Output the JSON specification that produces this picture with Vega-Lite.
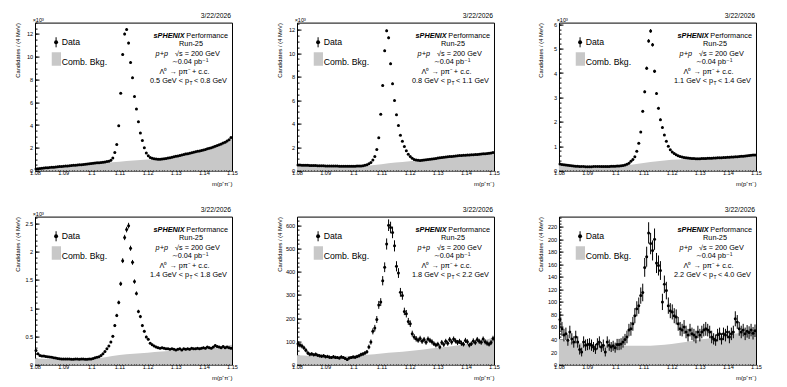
{
"$schema":"https://vega.github.io/schema/vega-lite/v6.json",
"background":"white",
"padding":{"left":13,"top":11.6,"right":5,"bottom":5},
"columns":3,
"spacing":{"row":46,"column":65},
"bounds":"flush",
"datasets":{
"bkg":[
{"p":1,"m":1.08,"n":130},{"p":1,"m":1.085,"n":240},{"p":1,"m":1.09,"n":360},{"p":1,"m":1.095,"n":470},{"p":1,"m":1.1,"n":580},{"p":1,"m":1.105,"n":680},{"p":1,"m":1.11,"n":780},{"p":1,"m":1.115,"n":880},{"p":1,"m":1.12,"n":970},{"p":1,"m":1.125,"n":1020},{"p":1,"m":1.13,"n":1200},{"p":1,"m":1.135,"n":1450},{"p":1,"m":1.14,"n":1780},{"p":1,"m":1.145,"n":2200},{"p":1,"m":1.15,"n":2850},
{"p":2,"m":1.08,"n":450},{"p":2,"m":1.085,"n":430},{"p":2,"m":1.09,"n":400},{"p":2,"m":1.095,"n":380},{"p":2,"m":1.1,"n":375},{"p":2,"m":1.105,"n":420},{"p":2,"m":1.11,"n":550},{"p":2,"m":1.115,"n":680},{"p":2,"m":1.12,"n":800},{"p":2,"m":1.125,"n":900},{"p":2,"m":1.13,"n":1040},{"p":2,"m":1.135,"n":1170},{"p":2,"m":1.14,"n":1280},{"p":2,"m":1.145,"n":1380},{"p":2,"m":1.15,"n":1500},
{"p":3,"m":1.08,"n":260},{"p":3,"m":1.085,"n":190},{"p":3,"m":1.09,"n":160},{"p":3,"m":1.095,"n":160},{"p":3,"m":1.1,"n":170},{"p":3,"m":1.105,"n":230},{"p":3,"m":1.11,"n":310},{"p":3,"m":1.115,"n":380},{"p":3,"m":1.12,"n":440},{"p":3,"m":1.125,"n":480},{"p":3,"m":1.13,"n":490},{"p":3,"m":1.135,"n":520},{"p":3,"m":1.14,"n":550},{"p":3,"m":1.145,"n":590},{"p":3,"m":1.15,"n":630},
{"p":4,"m":1.08,"n":110},{"p":4,"m":1.085,"n":100},{"p":4,"m":1.09,"n":95},{"p":4,"m":1.095,"n":95},{"p":4,"m":1.1,"n":100},{"p":4,"m":1.105,"n":130},{"p":4,"m":1.11,"n":170},{"p":4,"m":1.115,"n":190},{"p":4,"m":1.12,"n":210},{"p":4,"m":1.125,"n":230},{"p":4,"m":1.13,"n":250},{"p":4,"m":1.135,"n":270},{"p":4,"m":1.14,"n":300},{"p":4,"m":1.145,"n":320},{"p":4,"m":1.15,"n":350},
{"p":5,"m":1.08,"n":40},{"p":5,"m":1.085,"n":37},{"p":5,"m":1.09,"n":35},{"p":5,"m":1.095,"n":35},{"p":5,"m":1.1,"n":37},{"p":5,"m":1.105,"n":42},{"p":5,"m":1.11,"n":48},{"p":5,"m":1.115,"n":53},{"p":5,"m":1.12,"n":59},{"p":5,"m":1.125,"n":65},{"p":5,"m":1.13,"n":72},{"p":5,"m":1.135,"n":79},{"p":5,"m":1.14,"n":88},{"p":5,"m":1.145,"n":100},{"p":5,"m":1.15,"n":118},
{"p":6,"m":1.08,"n":41},{"p":6,"m":1.085,"n":36},{"p":6,"m":1.09,"n":33},{"p":6,"m":1.095,"n":31},{"p":6,"m":1.1,"n":30},{"p":6,"m":1.105,"n":30},{"p":6,"m":1.11,"n":30},{"p":6,"m":1.115,"n":31},{"p":6,"m":1.12,"n":33},{"p":6,"m":1.125,"n":36},{"p":6,"m":1.13,"n":40},{"p":6,"m":1.135,"n":43},{"p":6,"m":1.14,"n":47},{"p":6,"m":1.145,"n":51},{"p":6,"m":1.15,"n":56}
],
"pts":[
{"p":1,"m":1.08035,"n":150,"e":12},{"p":1,"m":1.08105,"n":170,"e":13},{"p":1,"m":1.08175,"n":190,"e":14},{"p":1,"m":1.08245,"n":200,"e":14},{"p":1,"m":1.08315,"n":220,"e":15},{"p":1,"m":1.08385,"n":240,"e":15},{"p":1,"m":1.08455,"n":250,"e":16},{"p":1,"m":1.08525,"n":270,"e":16},{"p":1,"m":1.08595,"n":290,"e":17},{"p":1,"m":1.08665,"n":300,"e":17},
{"p":1,"m":1.08735,"n":320,"e":18},{"p":1,"m":1.08805,"n":330,"e":18},{"p":1,"m":1.08875,"n":350,"e":19},{"p":1,"m":1.08945,"n":360,"e":19},{"p":1,"m":1.09015,"n":380,"e":19},{"p":1,"m":1.09085,"n":400,"e":20},{"p":1,"m":1.09155,"n":410,"e":20},{"p":1,"m":1.09225,"n":430,"e":21},{"p":1,"m":1.09295,"n":440,"e":21},{"p":1,"m":1.09365,"n":460,"e":21},
{"p":1,"m":1.09435,"n":480,"e":22},{"p":1,"m":1.09505,"n":490,"e":22},{"p":1,"m":1.09575,"n":510,"e":23},{"p":1,"m":1.09645,"n":520,"e":23},{"p":1,"m":1.09715,"n":540,"e":23},{"p":1,"m":1.09785,"n":560,"e":24},{"p":1,"m":1.09855,"n":580,"e":24},{"p":1,"m":1.09925,"n":600,"e":24},{"p":1,"m":1.09995,"n":620,"e":25},{"p":1,"m":1.10065,"n":640,"e":25},
{"p":1,"m":1.10135,"n":660,"e":26},{"p":1,"m":1.10205,"n":680,"e":26},{"p":1,"m":1.10275,"n":700,"e":26},{"p":1,"m":1.10345,"n":710,"e":27},{"p":1,"m":1.10415,"n":730,"e":27},{"p":1,"m":1.10485,"n":760,"e":28},{"p":1,"m":1.10555,"n":790,"e":28},{"p":1,"m":1.10625,"n":830,"e":29},{"p":1,"m":1.10695,"n":900,"e":30},{"p":1,"m":1.10765,"n":1100,"e":33},
{"p":1,"m":1.10835,"n":1600,"e":40},{"p":1,"m":1.10905,"n":2300,"e":48},{"p":1,"m":1.10975,"n":3950,"e":63},{"p":1,"m":1.11045,"n":6800,"e":82},{"p":1,"m":1.11115,"n":10200,"e":101},{"p":1,"m":1.11185,"n":12000,"e":110},{"p":1,"m":1.11255,"n":12400,"e":111},{"p":1,"m":1.11325,"n":11200,"e":106},{"p":1,"m":1.11395,"n":9500,"e":97},{"p":1,"m":1.11465,"n":8150,"e":90},
{"p":1,"m":1.11535,"n":6500,"e":81},{"p":1,"m":1.11605,"n":5400,"e":73},{"p":1,"m":1.11675,"n":4300,"e":66},{"p":1,"m":1.11745,"n":3300,"e":57},{"p":1,"m":1.11815,"n":2650,"e":51},{"p":1,"m":1.11885,"n":2000,"e":45},{"p":1,"m":1.11955,"n":1550,"e":39},{"p":1,"m":1.12025,"n":1300,"e":36},{"p":1,"m":1.12095,"n":1150,"e":34},{"p":1,"m":1.12165,"n":1080,"e":33},
{"p":1,"m":1.12235,"n":1050,"e":32},{"p":1,"m":1.12305,"n":1020,"e":32},{"p":1,"m":1.12375,"n":1000,"e":32},{"p":1,"m":1.12445,"n":1000,"e":32},{"p":1,"m":1.12515,"n":1010,"e":32},{"p":1,"m":1.12585,"n":1030,"e":32},{"p":1,"m":1.12655,"n":1060,"e":33},{"p":1,"m":1.12725,"n":1100,"e":33},{"p":1,"m":1.12795,"n":1130,"e":34},{"p":1,"m":1.12865,"n":1170,"e":34},
{"p":1,"m":1.12935,"n":1210,"e":35},{"p":1,"m":1.13005,"n":1250,"e":35},{"p":1,"m":1.13075,"n":1290,"e":36},{"p":1,"m":1.13145,"n":1330,"e":36},{"p":1,"m":1.13215,"n":1370,"e":37},{"p":1,"m":1.13285,"n":1410,"e":38},{"p":1,"m":1.13355,"n":1450,"e":38},{"p":1,"m":1.13425,"n":1490,"e":39},{"p":1,"m":1.13495,"n":1530,"e":39},{"p":1,"m":1.13565,"n":1570,"e":40},
{"p":1,"m":1.13635,"n":1610,"e":40},{"p":1,"m":1.13705,"n":1650,"e":41},{"p":1,"m":1.13775,"n":1690,"e":41},{"p":1,"m":1.13845,"n":1730,"e":42},{"p":1,"m":1.13915,"n":1770,"e":42},{"p":1,"m":1.13985,"n":1810,"e":43},{"p":1,"m":1.14055,"n":1860,"e":43},{"p":1,"m":1.14125,"n":1910,"e":44},{"p":1,"m":1.14195,"n":1960,"e":44},{"p":1,"m":1.14265,"n":2010,"e":45},
{"p":1,"m":1.14335,"n":2080,"e":46},{"p":1,"m":1.14405,"n":2140,"e":46},{"p":1,"m":1.14475,"n":2200,"e":47},{"p":1,"m":1.14545,"n":2270,"e":48},{"p":1,"m":1.14615,"n":2340,"e":48},{"p":1,"m":1.14685,"n":2420,"e":49},{"p":1,"m":1.14755,"n":2500,"e":50},{"p":1,"m":1.14825,"n":2600,"e":51},{"p":1,"m":1.14895,"n":2700,"e":52},{"p":1,"m":1.14965,"n":2900,"e":54},

{"p":2,"m":1.08035,"n":480,"e":22},{"p":2,"m":1.08105,"n":470,"e":22},{"p":2,"m":1.08175,"n":460,"e":21},{"p":2,"m":1.08245,"n":460,"e":21},{"p":2,"m":1.08315,"n":450,"e":21},{"p":2,"m":1.08385,"n":450,"e":21},{"p":2,"m":1.08455,"n":440,"e":21},{"p":2,"m":1.08525,"n":440,"e":21},{"p":2,"m":1.08595,"n":430,"e":21},{"p":2,"m":1.08665,"n":430,"e":21},
{"p":2,"m":1.08735,"n":420,"e":20},{"p":2,"m":1.08805,"n":420,"e":20},{"p":2,"m":1.08875,"n":410,"e":20},{"p":2,"m":1.08945,"n":410,"e":20},{"p":2,"m":1.09015,"n":400,"e":20},{"p":2,"m":1.09085,"n":400,"e":20},{"p":2,"m":1.09155,"n":400,"e":20},{"p":2,"m":1.09225,"n":390,"e":20},{"p":2,"m":1.09295,"n":390,"e":20},{"p":2,"m":1.09365,"n":390,"e":20},
{"p":2,"m":1.09435,"n":390,"e":20},{"p":2,"m":1.09505,"n":380,"e":19},{"p":2,"m":1.09575,"n":380,"e":19},{"p":2,"m":1.09645,"n":380,"e":19},{"p":2,"m":1.09715,"n":380,"e":19},{"p":2,"m":1.09785,"n":380,"e":19},{"p":2,"m":1.09855,"n":380,"e":19},{"p":2,"m":1.09925,"n":380,"e":19},{"p":2,"m":1.09995,"n":380,"e":19},{"p":2,"m":1.10065,"n":380,"e":19},
{"p":2,"m":1.10135,"n":390,"e":20},{"p":2,"m":1.10205,"n":390,"e":20},{"p":2,"m":1.10275,"n":400,"e":20},{"p":2,"m":1.10345,"n":420,"e":20},{"p":2,"m":1.10415,"n":450,"e":21},{"p":2,"m":1.10485,"n":500,"e":22},{"p":2,"m":1.10555,"n":580,"e":24},{"p":2,"m":1.10625,"n":700,"e":26},{"p":2,"m":1.10695,"n":900,"e":30},{"p":2,"m":1.10765,"n":1200,"e":35},
{"p":2,"m":1.10835,"n":1800,"e":42},{"p":2,"m":1.10905,"n":2800,"e":53},{"p":2,"m":1.10975,"n":4800,"e":69},{"p":2,"m":1.11045,"n":7250,"e":85},{"p":2,"m":1.11115,"n":10200,"e":101},{"p":2,"m":1.11185,"n":11900,"e":109},{"p":2,"m":1.11255,"n":11300,"e":106},{"p":2,"m":1.11325,"n":9100,"e":95},{"p":2,"m":1.11395,"n":7400,"e":86},{"p":2,"m":1.11465,"n":5960,"e":77},
{"p":2,"m":1.11535,"n":4750,"e":69},{"p":2,"m":1.11605,"n":3840,"e":62},{"p":2,"m":1.11675,"n":3000,"e":55},{"p":2,"m":1.11745,"n":2500,"e":50},{"p":2,"m":1.11815,"n":2060,"e":45},{"p":2,"m":1.11885,"n":1700,"e":41},{"p":2,"m":1.11955,"n":1400,"e":37},{"p":2,"m":1.12025,"n":1200,"e":35},{"p":2,"m":1.12095,"n":1050,"e":32},{"p":2,"m":1.12165,"n":950,"e":31},
{"p":2,"m":1.12235,"n":900,"e":30},{"p":2,"m":1.12305,"n":880,"e":30},{"p":2,"m":1.12375,"n":870,"e":29},{"p":2,"m":1.12445,"n":880,"e":30},{"p":2,"m":1.12515,"n":900,"e":30},{"p":2,"m":1.12585,"n":920,"e":30},{"p":2,"m":1.12655,"n":940,"e":31},{"p":2,"m":1.12725,"n":960,"e":31},{"p":2,"m":1.12795,"n":990,"e":31},{"p":2,"m":1.12865,"n":1010,"e":32},
{"p":2,"m":1.12935,"n":1040,"e":32},{"p":2,"m":1.13005,"n":1070,"e":33},{"p":2,"m":1.13075,"n":1090,"e":33},{"p":2,"m":1.13145,"n":1110,"e":33},{"p":2,"m":1.13215,"n":1130,"e":34},{"p":2,"m":1.13285,"n":1150,"e":34},{"p":2,"m":1.13355,"n":1170,"e":34},{"p":2,"m":1.13425,"n":1190,"e":34},{"p":2,"m":1.13495,"n":1210,"e":35},{"p":2,"m":1.13565,"n":1230,"e":35},
{"p":2,"m":1.13635,"n":1250,"e":35},{"p":2,"m":1.13705,"n":1260,"e":35},{"p":2,"m":1.13775,"n":1280,"e":36},{"p":2,"m":1.13845,"n":1290,"e":36},{"p":2,"m":1.13915,"n":1300,"e":36},{"p":2,"m":1.13985,"n":1310,"e":36},{"p":2,"m":1.14055,"n":1320,"e":36},{"p":2,"m":1.14125,"n":1330,"e":36},{"p":2,"m":1.14195,"n":1340,"e":37},{"p":2,"m":1.14265,"n":1350,"e":37},
{"p":2,"m":1.14335,"n":1360,"e":37},{"p":2,"m":1.14405,"n":1380,"e":37},{"p":2,"m":1.14475,"n":1390,"e":37},{"p":2,"m":1.14545,"n":1410,"e":38},{"p":2,"m":1.14615,"n":1430,"e":38},{"p":2,"m":1.14685,"n":1440,"e":38},{"p":2,"m":1.14755,"n":1460,"e":38},{"p":2,"m":1.14825,"n":1480,"e":38},{"p":2,"m":1.14895,"n":1500,"e":39},{"p":2,"m":1.14965,"n":1540,"e":39},

{"p":3,"m":1.08035,"n":270,"e":16},{"p":3,"m":1.08105,"n":250,"e":16},{"p":3,"m":1.08175,"n":240,"e":15},{"p":3,"m":1.08245,"n":230,"e":15},{"p":3,"m":1.08315,"n":220,"e":15},{"p":3,"m":1.08385,"n":210,"e":14},{"p":3,"m":1.08455,"n":200,"e":14},{"p":3,"m":1.08525,"n":190,"e":14},{"p":3,"m":1.08595,"n":180,"e":13},{"p":3,"m":1.08665,"n":175,"e":13},
{"p":3,"m":1.08735,"n":170,"e":13},{"p":3,"m":1.08805,"n":165,"e":13},{"p":3,"m":1.08875,"n":165,"e":13},{"p":3,"m":1.08945,"n":160,"e":13},{"p":3,"m":1.09015,"n":160,"e":13},{"p":3,"m":1.09085,"n":160,"e":13},{"p":3,"m":1.09155,"n":160,"e":13},{"p":3,"m":1.09225,"n":165,"e":13},{"p":3,"m":1.09295,"n":165,"e":13},{"p":3,"m":1.09365,"n":165,"e":13},
{"p":3,"m":1.09435,"n":165,"e":13},{"p":3,"m":1.09505,"n":170,"e":13},{"p":3,"m":1.09575,"n":170,"e":13},{"p":3,"m":1.09645,"n":170,"e":13},{"p":3,"m":1.09715,"n":170,"e":13},{"p":3,"m":1.09785,"n":170,"e":13},{"p":3,"m":1.09855,"n":175,"e":13},{"p":3,"m":1.09925,"n":175,"e":13},{"p":3,"m":1.09995,"n":180,"e":13},{"p":3,"m":1.10065,"n":185,"e":14},
{"p":3,"m":1.10135,"n":190,"e":14},{"p":3,"m":1.10205,"n":200,"e":14},{"p":3,"m":1.10275,"n":210,"e":14},{"p":3,"m":1.10345,"n":230,"e":15},{"p":3,"m":1.10415,"n":260,"e":16},{"p":3,"m":1.10485,"n":300,"e":17},{"p":3,"m":1.10555,"n":380,"e":19},{"p":3,"m":1.10625,"n":460,"e":21},{"p":3,"m":1.10695,"n":570,"e":24},{"p":3,"m":1.10765,"n":790,"e":28},
{"p":3,"m":1.10835,"n":1120,"e":33},{"p":3,"m":1.10905,"n":1580,"e":40},{"p":3,"m":1.10975,"n":2430,"e":49},{"p":3,"m":1.11045,"n":3230,"e":57},{"p":3,"m":1.11115,"n":4200,"e":65},{"p":3,"m":1.11185,"n":5320,"e":73},{"p":3,"m":1.11255,"n":5730,"e":76},{"p":3,"m":1.11325,"n":5160,"e":72},{"p":3,"m":1.11395,"n":4070,"e":64},{"p":3,"m":1.11465,"n":3160,"e":56},
{"p":3,"m":1.11535,"n":2560,"e":51},{"p":3,"m":1.11605,"n":2090,"e":46},{"p":3,"m":1.11675,"n":1770,"e":42},{"p":3,"m":1.11745,"n":1460,"e":38},{"p":3,"m":1.11815,"n":1200,"e":35},{"p":3,"m":1.11885,"n":1000,"e":32},{"p":3,"m":1.11955,"n":850,"e":29},{"p":3,"m":1.12025,"n":760,"e":28},{"p":3,"m":1.12095,"n":700,"e":26},{"p":3,"m":1.12165,"n":650,"e":25},
{"p":3,"m":1.12235,"n":610,"e":25},{"p":3,"m":1.12305,"n":580,"e":24},{"p":3,"m":1.12375,"n":560,"e":24},{"p":3,"m":1.12445,"n":540,"e":23},{"p":3,"m":1.12515,"n":530,"e":23},{"p":3,"m":1.12585,"n":520,"e":23},{"p":3,"m":1.12655,"n":510,"e":23},{"p":3,"m":1.12725,"n":500,"e":22},{"p":3,"m":1.12795,"n":500,"e":22},{"p":3,"m":1.12865,"n":490,"e":22},
{"p":3,"m":1.12935,"n":490,"e":22},{"p":3,"m":1.13005,"n":490,"e":22},{"p":3,"m":1.13075,"n":500,"e":22},{"p":3,"m":1.13145,"n":500,"e":22},{"p":3,"m":1.13215,"n":500,"e":22},{"p":3,"m":1.13285,"n":510,"e":23},{"p":3,"m":1.13355,"n":510,"e":23},{"p":3,"m":1.13425,"n":510,"e":23},{"p":3,"m":1.13495,"n":520,"e":23},{"p":3,"m":1.13565,"n":520,"e":23},
{"p":3,"m":1.13635,"n":530,"e":23},{"p":3,"m":1.13705,"n":530,"e":23},{"p":3,"m":1.13775,"n":530,"e":23},{"p":3,"m":1.13845,"n":540,"e":23},{"p":3,"m":1.13915,"n":540,"e":23},{"p":3,"m":1.13985,"n":550,"e":23},{"p":3,"m":1.14055,"n":550,"e":23},{"p":3,"m":1.14125,"n":560,"e":24},{"p":3,"m":1.14195,"n":560,"e":24},{"p":3,"m":1.14265,"n":570,"e":24},
{"p":3,"m":1.14335,"n":570,"e":24},{"p":3,"m":1.14405,"n":580,"e":24},{"p":3,"m":1.14475,"n":590,"e":24},{"p":3,"m":1.14545,"n":590,"e":24},{"p":3,"m":1.14615,"n":600,"e":24},{"p":3,"m":1.14685,"n":610,"e":25},{"p":3,"m":1.14755,"n":620,"e":25},{"p":3,"m":1.14825,"n":630,"e":25},{"p":3,"m":1.14895,"n":640,"e":25},{"p":3,"m":1.14965,"n":640,"e":25},

{"p":4,"m":1.08035,"n":250,"e":16},{"p":4,"m":1.08105,"n":190,"e":14},{"p":4,"m":1.08175,"n":160,"e":13},{"p":4,"m":1.08245,"n":150,"e":12},{"p":4,"m":1.08315,"n":150,"e":12},{"p":4,"m":1.08385,"n":145,"e":12},{"p":4,"m":1.08455,"n":140,"e":12},{"p":4,"m":1.08525,"n":135,"e":12},{"p":4,"m":1.08595,"n":130,"e":11},{"p":4,"m":1.08665,"n":120,"e":11},
{"p":4,"m":1.08735,"n":115,"e":11},{"p":4,"m":1.08805,"n":110,"e":10},{"p":4,"m":1.08875,"n":105,"e":10},{"p":4,"m":1.08945,"n":100,"e":10},{"p":4,"m":1.09015,"n":100,"e":10},{"p":4,"m":1.09085,"n":98,"e":10},{"p":4,"m":1.09155,"n":97,"e":10},{"p":4,"m":1.09225,"n":100,"e":10},{"p":4,"m":1.09295,"n":96,"e":10},{"p":4,"m":1.09365,"n":95,"e":10},
{"p":4,"m":1.09435,"n":98,"e":10},{"p":4,"m":1.09505,"n":97,"e":10},{"p":4,"m":1.09575,"n":96,"e":10},{"p":4,"m":1.09645,"n":99,"e":10},{"p":4,"m":1.09715,"n":97,"e":10},{"p":4,"m":1.09785,"n":96,"e":10},{"p":4,"m":1.09855,"n":95,"e":10},{"p":4,"m":1.09925,"n":98,"e":10},{"p":4,"m":1.09995,"n":100,"e":10},{"p":4,"m":1.10065,"n":110,"e":10},
{"p":4,"m":1.10135,"n":120,"e":11},{"p":4,"m":1.10205,"n":130,"e":11},{"p":4,"m":1.10275,"n":140,"e":12},{"p":4,"m":1.10345,"n":160,"e":13},{"p":4,"m":1.10415,"n":190,"e":14},{"p":4,"m":1.10485,"n":230,"e":15},{"p":4,"m":1.10555,"n":280,"e":17},{"p":4,"m":1.10625,"n":330,"e":18},{"p":4,"m":1.10695,"n":400,"e":20},{"p":4,"m":1.10765,"n":500,"e":22},
{"p":4,"m":1.10835,"n":690,"e":26},{"p":4,"m":1.10905,"n":870,"e":29},{"p":4,"m":1.10975,"n":1100,"e":33},{"p":4,"m":1.11045,"n":1430,"e":38},{"p":4,"m":1.11115,"n":1840,"e":43},{"p":4,"m":1.11185,"n":2250,"e":47},{"p":4,"m":1.11255,"n":2390,"e":49},{"p":4,"m":1.11325,"n":2460,"e":50},{"p":4,"m":1.11395,"n":2060,"e":45},{"p":4,"m":1.11465,"n":1810,"e":43},
{"p":4,"m":1.11535,"n":1470,"e":38},{"p":4,"m":1.11605,"n":1260,"e":35},{"p":4,"m":1.11675,"n":940,"e":31},{"p":4,"m":1.11745,"n":850,"e":29},{"p":4,"m":1.11815,"n":690,"e":26},{"p":4,"m":1.11885,"n":590,"e":24},{"p":4,"m":1.11955,"n":490,"e":22},{"p":4,"m":1.12025,"n":450,"e":21},{"p":4,"m":1.12095,"n":380,"e":19},{"p":4,"m":1.12165,"n":350,"e":19},
{"p":4,"m":1.12235,"n":330,"e":18},{"p":4,"m":1.12305,"n":310,"e":18},{"p":4,"m":1.12375,"n":300,"e":17},{"p":4,"m":1.12445,"n":290,"e":17},{"p":4,"m":1.12515,"n":300,"e":17},{"p":4,"m":1.12585,"n":290,"e":17},{"p":4,"m":1.12655,"n":280,"e":17},{"p":4,"m":1.12725,"n":280,"e":17},{"p":4,"m":1.12795,"n":270,"e":16},{"p":4,"m":1.12865,"n":280,"e":17},
{"p":4,"m":1.12935,"n":270,"e":16},{"p":4,"m":1.13005,"n":260,"e":16},{"p":4,"m":1.13075,"n":270,"e":16},{"p":4,"m":1.13145,"n":280,"e":17},{"p":4,"m":1.13215,"n":260,"e":16},{"p":4,"m":1.13285,"n":280,"e":17},{"p":4,"m":1.13355,"n":270,"e":16},{"p":4,"m":1.13425,"n":280,"e":17},{"p":4,"m":1.13495,"n":270,"e":16},{"p":4,"m":1.13565,"n":290,"e":17},
{"p":4,"m":1.13635,"n":280,"e":17},{"p":4,"m":1.13705,"n":280,"e":17},{"p":4,"m":1.13775,"n":290,"e":17},{"p":4,"m":1.13845,"n":280,"e":17},{"p":4,"m":1.13915,"n":290,"e":17},{"p":4,"m":1.13985,"n":300,"e":17},{"p":4,"m":1.14055,"n":290,"e":17},{"p":4,"m":1.14125,"n":310,"e":18},{"p":4,"m":1.14195,"n":300,"e":17},{"p":4,"m":1.14265,"n":290,"e":17},
{"p":4,"m":1.14335,"n":310,"e":18},{"p":4,"m":1.14405,"n":340,"e":18},{"p":4,"m":1.14475,"n":320,"e":18},{"p":4,"m":1.14545,"n":310,"e":18},{"p":4,"m":1.14615,"n":300,"e":17},{"p":4,"m":1.14685,"n":320,"e":18},{"p":4,"m":1.14755,"n":300,"e":17},{"p":4,"m":1.14825,"n":310,"e":18},{"p":4,"m":1.14895,"n":300,"e":17},{"p":4,"m":1.14965,"n":290,"e":17},

{"p":5,"m":1.08035,"n":90,"e":10},{"p":5,"m":1.08105,"n":84,"e":10},{"p":5,"m":1.08175,"n":80,"e":10},{"p":5,"m":1.08245,"n":72,"e":9},{"p":5,"m":1.08315,"n":62,"e":9},{"p":5,"m":1.08385,"n":50,"e":8},{"p":5,"m":1.08455,"n":44,"e":8},{"p":5,"m":1.08525,"n":46,"e":8},{"p":5,"m":1.08595,"n":42,"e":7},{"p":5,"m":1.08665,"n":44,"e":8},
{"p":5,"m":1.08735,"n":40,"e":7},{"p":5,"m":1.08805,"n":38,"e":7},{"p":5,"m":1.08875,"n":36,"e":7},{"p":5,"m":1.08945,"n":38,"e":7},{"p":5,"m":1.09015,"n":34,"e":7},{"p":5,"m":1.09085,"n":35,"e":7},{"p":5,"m":1.09155,"n":32,"e":7},{"p":5,"m":1.09225,"n":30,"e":6},{"p":5,"m":1.09295,"n":34,"e":7},{"p":5,"m":1.09365,"n":31,"e":7},
{"p":5,"m":1.09435,"n":30,"e":6},{"p":5,"m":1.09505,"n":28,"e":6},{"p":5,"m":1.09575,"n":33,"e":7},{"p":5,"m":1.09645,"n":30,"e":6},{"p":5,"m":1.09715,"n":26,"e":6},{"p":5,"m":1.09785,"n":22,"e":6},{"p":5,"m":1.09855,"n":28,"e":6},{"p":5,"m":1.09925,"n":30,"e":6},{"p":5,"m":1.09995,"n":33,"e":7},{"p":5,"m":1.10065,"n":32,"e":7},
{"p":5,"m":1.10135,"n":35,"e":7},{"p":5,"m":1.10205,"n":38,"e":7},{"p":5,"m":1.10275,"n":43,"e":8},{"p":5,"m":1.10345,"n":46,"e":8},{"p":5,"m":1.10415,"n":50,"e":8},{"p":5,"m":1.10485,"n":55,"e":8},{"p":5,"m":1.10555,"n":76,"e":10},{"p":5,"m":1.10625,"n":97,"e":11},{"p":5,"m":1.10695,"n":143,"e":13},{"p":5,"m":1.10765,"n":157,"e":14},
{"p":5,"m":1.10835,"n":194,"e":15},{"p":5,"m":1.10905,"n":257,"e":17},{"p":5,"m":1.10975,"n":269,"e":17},{"p":5,"m":1.11045,"n":361,"e":20},{"p":5,"m":1.11115,"n":419,"e":21},{"p":5,"m":1.11185,"n":519,"e":24},{"p":5,"m":1.11255,"n":600,"e":25},{"p":5,"m":1.11325,"n":590,"e":25},{"p":5,"m":1.11395,"n":569,"e":25},{"p":5,"m":1.11465,"n":511,"e":24},
{"p":5,"m":1.11535,"n":423,"e":22},{"p":5,"m":1.11605,"n":394,"e":21},{"p":5,"m":1.11675,"n":311,"e":19},{"p":5,"m":1.11745,"n":297,"e":18},{"p":5,"m":1.11815,"n":229,"e":16},{"p":5,"m":1.11885,"n":219,"e":16},{"p":5,"m":1.11955,"n":186,"e":15},{"p":5,"m":1.12025,"n":176,"e":14},{"p":5,"m":1.12095,"n":133,"e":13},{"p":5,"m":1.12165,"n":119,"e":12},
{"p":5,"m":1.12235,"n":111,"e":12},{"p":5,"m":1.12305,"n":105,"e":11},{"p":5,"m":1.12375,"n":112,"e":12},{"p":5,"m":1.12445,"n":100,"e":11},{"p":5,"m":1.12515,"n":108,"e":11},{"p":5,"m":1.12585,"n":96,"e":11},{"p":5,"m":1.12655,"n":110,"e":11},{"p":5,"m":1.12725,"n":104,"e":11},{"p":5,"m":1.12795,"n":98,"e":11},{"p":5,"m":1.12865,"n":90,"e":10},
{"p":5,"m":1.12935,"n":84,"e":10},{"p":5,"m":1.13005,"n":88,"e":10},{"p":5,"m":1.13075,"n":76,"e":10},{"p":5,"m":1.13145,"n":95,"e":11},{"p":5,"m":1.13215,"n":86,"e":10},{"p":5,"m":1.13285,"n":100,"e":11},{"p":5,"m":1.13355,"n":92,"e":11},{"p":5,"m":1.13425,"n":108,"e":11},{"p":5,"m":1.13495,"n":97,"e":11},{"p":5,"m":1.13565,"n":110,"e":11},
{"p":5,"m":1.13635,"n":102,"e":11},{"p":5,"m":1.13705,"n":95,"e":11},{"p":5,"m":1.13775,"n":100,"e":11},{"p":5,"m":1.13845,"n":92,"e":11},{"p":5,"m":1.13915,"n":88,"e":10},{"p":5,"m":1.13985,"n":104,"e":11},{"p":5,"m":1.14055,"n":98,"e":11},{"p":5,"m":1.14125,"n":84,"e":10},{"p":5,"m":1.14195,"n":90,"e":10},{"p":5,"m":1.14265,"n":102,"e":11},
{"p":5,"m":1.14335,"n":95,"e":11},{"p":5,"m":1.14405,"n":108,"e":11},{"p":5,"m":1.14475,"n":100,"e":11},{"p":5,"m":1.14545,"n":96,"e":11},{"p":5,"m":1.14615,"n":110,"e":11},{"p":5,"m":1.14685,"n":98,"e":11},{"p":5,"m":1.14755,"n":92,"e":11},{"p":5,"m":1.14825,"n":88,"e":10},{"p":5,"m":1.14895,"n":95,"e":11},{"p":5,"m":1.14965,"n":112,"e":12},

{"p":6,"m":1.08035,"n":72,"e":12},{"p":6,"m":1.08105,"n":57,"e":11},{"p":6,"m":1.08175,"n":47,"e":10},{"p":6,"m":1.08245,"n":49,"e":10},{"p":6,"m":1.08315,"n":39,"e":9},{"p":6,"m":1.08385,"n":52,"e":10},{"p":6,"m":1.08455,"n":41,"e":9},{"p":6,"m":1.08525,"n":36,"e":9},{"p":6,"m":1.08595,"n":44,"e":10},{"p":6,"m":1.08665,"n":36,"e":9},
{"p":6,"m":1.08735,"n":24,"e":8},{"p":6,"m":1.08805,"n":20,"e":7},{"p":6,"m":1.08875,"n":36,"e":9},{"p":6,"m":1.08945,"n":31,"e":9},{"p":6,"m":1.09015,"n":32,"e":9},{"p":6,"m":1.09085,"n":33,"e":9},{"p":6,"m":1.09155,"n":31,"e":9},{"p":6,"m":1.09225,"n":28,"e":8},{"p":6,"m":1.09295,"n":25,"e":8},{"p":6,"m":1.09365,"n":33,"e":9},
{"p":6,"m":1.09435,"n":36,"e":9},{"p":6,"m":1.09505,"n":28,"e":8},{"p":6,"m":1.09575,"n":31,"e":9},{"p":6,"m":1.09645,"n":20,"e":7},{"p":6,"m":1.09715,"n":36,"e":9},{"p":6,"m":1.09785,"n":31,"e":9},{"p":6,"m":1.09855,"n":28,"e":8},{"p":6,"m":1.09925,"n":30,"e":8},{"p":6,"m":1.09995,"n":27,"e":8},{"p":6,"m":1.10065,"n":32,"e":9},
{"p":6,"m":1.10135,"n":32,"e":9},{"p":6,"m":1.10205,"n":33,"e":9},{"p":6,"m":1.10275,"n":36,"e":9},{"p":6,"m":1.10345,"n":40,"e":9},{"p":6,"m":1.10415,"n":44,"e":10},{"p":6,"m":1.10485,"n":55,"e":10},{"p":6,"m":1.10555,"n":57,"e":11},{"p":6,"m":1.10625,"n":65,"e":11},{"p":6,"m":1.10695,"n":78,"e":12},{"p":6,"m":1.10765,"n":89,"e":12},
{"p":6,"m":1.10835,"n":94,"e":13},{"p":6,"m":1.10905,"n":110,"e":13},{"p":6,"m":1.10975,"n":115,"e":14},{"p":6,"m":1.11045,"n":155,"e":15},{"p":6,"m":1.11115,"n":172,"e":16},{"p":6,"m":1.11185,"n":210,"e":17},{"p":6,"m":1.11255,"n":193,"e":17},{"p":6,"m":1.11325,"n":182,"e":16},{"p":6,"m":1.11395,"n":200,"e":17},{"p":6,"m":1.11465,"n":162,"e":16},
{"p":6,"m":1.11535,"n":158,"e":16},{"p":6,"m":1.11605,"n":150,"e":15},{"p":6,"m":1.11675,"n":100,"e":13},{"p":6,"m":1.11745,"n":128,"e":14},{"p":6,"m":1.11815,"n":118,"e":14},{"p":6,"m":1.11885,"n":94,"e":13},{"p":6,"m":1.11955,"n":86,"e":12},{"p":6,"m":1.12025,"n":84,"e":12},{"p":6,"m":1.12095,"n":78,"e":12},{"p":6,"m":1.12165,"n":76,"e":12},
{"p":6,"m":1.12235,"n":65,"e":11},{"p":6,"m":1.12305,"n":57,"e":11},{"p":6,"m":1.12375,"n":55,"e":10},{"p":6,"m":1.12445,"n":60,"e":11},{"p":6,"m":1.12515,"n":52,"e":10},{"p":6,"m":1.12585,"n":47,"e":10},{"p":6,"m":1.12655,"n":55,"e":10},{"p":6,"m":1.12725,"n":49,"e":10},{"p":6,"m":1.12795,"n":47,"e":10},{"p":6,"m":1.12865,"n":44,"e":10},
{"p":6,"m":1.12935,"n":52,"e":10},{"p":6,"m":1.13005,"n":47,"e":10},{"p":6,"m":1.13075,"n":52,"e":10},{"p":6,"m":1.13145,"n":55,"e":10},{"p":6,"m":1.13215,"n":57,"e":11},{"p":6,"m":1.13285,"n":55,"e":10},{"p":6,"m":1.13355,"n":52,"e":10},{"p":6,"m":1.13425,"n":44,"e":10},{"p":6,"m":1.13495,"n":41,"e":9},{"p":6,"m":1.13565,"n":39,"e":9},
{"p":6,"m":1.13635,"n":47,"e":10},{"p":6,"m":1.13705,"n":49,"e":10},{"p":6,"m":1.13775,"n":41,"e":9},{"p":6,"m":1.13845,"n":49,"e":10},{"p":6,"m":1.13915,"n":47,"e":10},{"p":6,"m":1.13985,"n":52,"e":10},{"p":6,"m":1.14055,"n":44,"e":10},{"p":6,"m":1.14125,"n":49,"e":10},{"p":6,"m":1.14195,"n":52,"e":10},{"p":6,"m":1.14265,"n":73,"e":12},
{"p":6,"m":1.14335,"n":68,"e":11},{"p":6,"m":1.14405,"n":57,"e":11},{"p":6,"m":1.14475,"n":52,"e":10},{"p":6,"m":1.14545,"n":55,"e":10},{"p":6,"m":1.14615,"n":49,"e":10},{"p":6,"m":1.14685,"n":53,"e":10},{"p":6,"m":1.14755,"n":51,"e":10},{"p":6,"m":1.14825,"n":55,"e":10},{"p":6,"m":1.14895,"n":50,"e":10},{"p":6,"m":1.14965,"n":54,"e":10}
]
},
"concat":[
{"width":197,"height":148,"resolve":{"scale":{"x":"independent","y":"independent"}},"layer":[
 {"resolve":{"axis":{"x":"independent","y":"independent"}},"layer":[
  {"data":{"name":"bkg"},"transform":[{"filter":"datum.p==1"}],"mark":{"type":"area","color":"#c8c8c8","interpolate":"monotone"},
   "encoding":{"x":{"field":"m","type":"quantitative","scale":{"domain":[1.08,1.15],"nice":false,"zero":false},"axis":{"orient":"bottom","values":[1.08,1.09,1.1,1.11,1.12,1.13,1.14,1.15],"format":"~g","tickSize":-4,"labelPadding":4.3,"labelBaseline":"top","title":"m(p⁺π⁻)","titleFontSize":6,"titleX":197,"titleY":13,"titleAlign":"right","titleBaseline":"middle","titleAnchor":"end"}},
   "y":{"field":"n","type":"quantitative","scale":{"domain":[0,13000],"nice":false},"axis":{"orient":"left","values":[0,2000,4000,6000,8000,10000,12000],"labelExpr":"datum.value/1000","tickSize":-4,"labelPadding":6.3,"title":"Candidates / (4 MeV)","titleFontSize":5.8,"titleX":-18,"titleY":0,"titleAngle":270,"titleAlign":"right","titleBaseline":"middle","titleAnchor":"end"}}}},
  {"data":{"name":"pts"},"transform":[{"filter":"datum.p==1"}],"mark":{"type":"errorbar","color":"#000","thickness":1},
   "encoding":{"x":{"field":"m","type":"quantitative","scale":{"domain":[1.08,1.15],"nice":false,"zero":false},"axis":null},"y":{"field":"n","type":"quantitative","scale":{"domain":[0,13000],"nice":false},"axis":null},"yError":{"field":"e"}}},
  {"data":{"name":"pts"},"transform":[{"filter":"datum.p==1"}],"mark":{"type":"point","filled":true,"color":"#000","opacity":1,"size":9},
   "encoding":{"x":{"field":"m","type":"quantitative","scale":{"domain":[1.08,1.15],"nice":false,"zero":false},"axis":{"orient":"bottom","tickCount":70,"labels":false,"tickSize":-2,"title":null}},"y":{"field":"n","type":"quantitative","scale":{"domain":[0,13000],"nice":false},"axis":{"orient":"left","tickCount":26,"labels":false,"tickSize":-2,"title":null}}}}
 ]},
 {"data":{"values":[{}]},"layer":[
  {"mark":{"type":"text","text":"3/22/2026","fontSize":6.8,"align":"right","baseline":"middle"},"encoding":{"x":{"datum":0.995,"type":"quantitative","scale":{"domain":[0,1],"nice":false,"zero":false},"axis":null},"y":{"datum":1.045,"type":"quantitative","scale":{"domain":[0,1],"nice":false,"zero":false},"axis":null}}},
  {"mark":{"type":"text","text":"×10³","fontSize":5.5,"align":"left","baseline":"middle"},"encoding":{"x":{"datum":-0.012,"type":"quantitative","scale":{"domain":[0,1],"nice":false,"zero":false},"axis":null},"y":{"datum":1.018,"type":"quantitative","scale":{"domain":[0,1],"nice":false,"zero":false},"axis":null}}},
  {"mark":{"type":"rule","color":"#000","strokeWidth":1},"encoding":{"x":{"datum":0.107,"type":"quantitative","scale":{"domain":[0,1],"nice":false,"zero":false},"axis":null},"y":{"datum":0.833,"type":"quantitative","scale":{"domain":[0,1],"nice":false,"zero":false},"axis":null},"y2":{"datum":0.901}}},
  {"mark":{"type":"point","filled":true,"color":"#000","opacity":1,"size":16},"encoding":{"x":{"datum":0.107,"type":"quantitative","scale":{"domain":[0,1],"nice":false,"zero":false},"axis":null},"y":{"datum":0.867,"type":"quantitative","scale":{"domain":[0,1],"nice":false,"zero":false},"axis":null}}},
  {"mark":{"type":"text","text":"Data","fontSize":8.7,"align":"left","baseline":"middle"},"encoding":{"x":{"datum":0.1355,"type":"quantitative","scale":{"domain":[0,1],"nice":false,"zero":false},"axis":null},"y":{"datum":0.867,"type":"quantitative","scale":{"domain":[0,1],"nice":false,"zero":false},"axis":null}}},
  {"mark":{"type":"rect","color":"#c8c8c8"},"encoding":{"x":{"datum":0.085,"type":"quantitative","scale":{"domain":[0,1],"nice":false,"zero":false},"axis":null},"x2":{"datum":0.132},"y":{"datum":0.709,"type":"quantitative","scale":{"domain":[0,1],"nice":false,"zero":false},"axis":null},"y2":{"datum":0.8}}},
  {"mark":{"type":"text","text":"Comb. Bkg.","fontSize":8.7,"align":"left","baseline":"middle"},"encoding":{"x":{"datum":0.1355,"type":"quantitative","scale":{"domain":[0,1],"nice":false,"zero":false},"axis":null},"y":{"datum":0.736,"type":"quantitative","scale":{"domain":[0,1],"nice":false,"zero":false},"axis":null}}},
  {"mark":{"type":"text","text":"sPHENIX","fontSize":7.3,"fontWeight":"bold","fontStyle":"italic","align":"right","baseline":"middle"},"encoding":{"x":{"datum":0.76,"type":"quantitative","scale":{"domain":[0,1],"nice":false,"zero":false},"axis":null},"y":{"datum":0.91,"type":"quantitative","scale":{"domain":[0,1],"nice":false,"zero":false},"axis":null}}},
  {"mark":{"type":"text","text":"Performance","fontSize":7.3,"align":"left","baseline":"middle"},"encoding":{"x":{"datum":0.768,"type":"quantitative","scale":{"domain":[0,1],"nice":false,"zero":false},"axis":null},"y":{"datum":0.91,"type":"quantitative","scale":{"domain":[0,1],"nice":false,"zero":false},"axis":null}}},
  {"mark":{"type":"text","text":"Run-25","fontSize":7.3,"align":"center","baseline":"middle"},"encoding":{"x":{"datum":0.792,"type":"quantitative","scale":{"domain":[0,1],"nice":false,"zero":false},"axis":null},"y":{"datum":0.856,"type":"quantitative","scale":{"domain":[0,1],"nice":false,"zero":false},"axis":null}}},
  {"mark":{"type":"text","text":"p+p","fontSize":7.3,"fontStyle":"italic","align":"right","baseline":"middle"},"encoding":{"x":{"datum":0.675,"type":"quantitative","scale":{"domain":[0,1],"nice":false,"zero":false},"axis":null},"y":{"datum":0.789,"type":"quantitative","scale":{"domain":[0,1],"nice":false,"zero":false},"axis":null}}},
  {"mark":{"type":"text","text":"√s = 200 GeV","fontSize":7.3,"align":"left","baseline":"middle"},"encoding":{"x":{"datum":0.711,"type":"quantitative","scale":{"domain":[0,1],"nice":false,"zero":false},"axis":null},"y":{"datum":0.789,"type":"quantitative","scale":{"domain":[0,1],"nice":false,"zero":false},"axis":null}}},
  {"mark":{"type":"text","text":"∼0.04 pb⁻¹","fontSize":7.3,"align":"center","baseline":"middle"},"encoding":{"x":{"datum":0.787,"type":"quantitative","scale":{"domain":[0,1],"nice":false,"zero":false},"axis":null},"y":{"datum":0.732,"type":"quantitative","scale":{"domain":[0,1],"nice":false,"zero":false},"axis":null}}},
  {"mark":{"type":"text","text":"Λ⁰   → pπ⁻ + c.c.","fontSize":7.3,"align":"center","baseline":"middle"},"encoding":{"x":{"datum":0.759,"type":"quantitative","scale":{"domain":[0,1],"nice":false,"zero":false},"axis":null},"y":{"datum":0.669,"type":"quantitative","scale":{"domain":[0,1],"nice":false,"zero":false},"axis":null}}},
  {"mark":{"type":"text","text":"0.5 GeV < p","fontSize":7.3,"align":"right","baseline":"middle"},"encoding":{"x":{"datum":0.782,"type":"quantitative","scale":{"domain":[0,1],"nice":false,"zero":false},"axis":null},"y":{"datum":0.608,"type":"quantitative","scale":{"domain":[0,1],"nice":false,"zero":false},"axis":null}}},
  {"mark":{"type":"text","text":"T","fontSize":5,"align":"left","baseline":"middle"},"encoding":{"x":{"datum":0.784,"type":"quantitative","scale":{"domain":[0,1],"nice":false,"zero":false},"axis":null},"y":{"datum":0.59,"type":"quantitative","scale":{"domain":[0,1],"nice":false,"zero":false},"axis":null}}},
  {"mark":{"type":"text","text":"< 0.8 GeV","fontSize":7.3,"align":"left","baseline":"middle"},"encoding":{"x":{"datum":0.807,"type":"quantitative","scale":{"domain":[0,1],"nice":false,"zero":false},"axis":null},"y":{"datum":0.608,"type":"quantitative","scale":{"domain":[0,1],"nice":false,"zero":false},"axis":null}}}
 ]}
]},
{"width":197,"height":148,"resolve":{"scale":{"x":"independent","y":"independent"}},"layer":[
 {"resolve":{"axis":{"x":"independent","y":"independent"}},"layer":[
  {"data":{"name":"bkg"},"transform":[{"filter":"datum.p==2"}],"mark":{"type":"area","color":"#c8c8c8","interpolate":"monotone"},
   "encoding":{"x":{"field":"m","type":"quantitative","scale":{"domain":[1.08,1.15],"nice":false,"zero":false},"axis":{"orient":"bottom","values":[1.08,1.09,1.1,1.11,1.12,1.13,1.14,1.15],"format":"~g","tickSize":-4,"labelPadding":4.3,"labelBaseline":"top","title":"m(p⁺π⁻)","titleFontSize":6,"titleX":197,"titleY":13,"titleAlign":"right","titleBaseline":"middle","titleAnchor":"end"}},
   "y":{"field":"n","type":"quantitative","scale":{"domain":[0,12600],"nice":false},"axis":{"orient":"left","values":[0,2000,4000,6000,8000,10000,12000],"labelExpr":"datum.value/1000","tickSize":-4,"labelPadding":6.3,"title":"Candidates / (4 MeV)","titleFontSize":5.8,"titleX":-18,"titleY":0,"titleAngle":270,"titleAlign":"right","titleBaseline":"middle","titleAnchor":"end"}}}},
  {"data":{"name":"pts"},"transform":[{"filter":"datum.p==2"}],"mark":{"type":"errorbar","color":"#000","thickness":1},
   "encoding":{"x":{"field":"m","type":"quantitative","scale":{"domain":[1.08,1.15],"nice":false,"zero":false},"axis":null},"y":{"field":"n","type":"quantitative","scale":{"domain":[0,12600],"nice":false},"axis":null},"yError":{"field":"e"}}},
  {"data":{"name":"pts"},"transform":[{"filter":"datum.p==2"}],"mark":{"type":"point","filled":true,"color":"#000","opacity":1,"size":9},
   "encoding":{"x":{"field":"m","type":"quantitative","scale":{"domain":[1.08,1.15],"nice":false,"zero":false},"axis":{"orient":"bottom","tickCount":70,"labels":false,"tickSize":-2,"title":null}},"y":{"field":"n","type":"quantitative","scale":{"domain":[0,12600],"nice":false},"axis":{"orient":"left","tickCount":25,"labels":false,"tickSize":-2,"title":null}}}}
 ]},
 {"data":{"values":[{}]},"layer":[
  {"mark":{"type":"text","text":"3/22/2026","fontSize":6.8,"align":"right","baseline":"middle"},"encoding":{"x":{"datum":0.995,"type":"quantitative","scale":{"domain":[0,1],"nice":false,"zero":false},"axis":null},"y":{"datum":1.045,"type":"quantitative","scale":{"domain":[0,1],"nice":false,"zero":false},"axis":null}}},
  {"mark":{"type":"text","text":"×10³","fontSize":5.5,"align":"left","baseline":"middle"},"encoding":{"x":{"datum":-0.012,"type":"quantitative","scale":{"domain":[0,1],"nice":false,"zero":false},"axis":null},"y":{"datum":1.018,"type":"quantitative","scale":{"domain":[0,1],"nice":false,"zero":false},"axis":null}}},
  {"mark":{"type":"rule","color":"#000","strokeWidth":1},"encoding":{"x":{"datum":0.107,"type":"quantitative","scale":{"domain":[0,1],"nice":false,"zero":false},"axis":null},"y":{"datum":0.833,"type":"quantitative","scale":{"domain":[0,1],"nice":false,"zero":false},"axis":null},"y2":{"datum":0.901}}},
  {"mark":{"type":"point","filled":true,"color":"#000","opacity":1,"size":16},"encoding":{"x":{"datum":0.107,"type":"quantitative","scale":{"domain":[0,1],"nice":false,"zero":false},"axis":null},"y":{"datum":0.867,"type":"quantitative","scale":{"domain":[0,1],"nice":false,"zero":false},"axis":null}}},
  {"mark":{"type":"text","text":"Data","fontSize":8.7,"align":"left","baseline":"middle"},"encoding":{"x":{"datum":0.1355,"type":"quantitative","scale":{"domain":[0,1],"nice":false,"zero":false},"axis":null},"y":{"datum":0.867,"type":"quantitative","scale":{"domain":[0,1],"nice":false,"zero":false},"axis":null}}},
  {"mark":{"type":"rect","color":"#c8c8c8"},"encoding":{"x":{"datum":0.085,"type":"quantitative","scale":{"domain":[0,1],"nice":false,"zero":false},"axis":null},"x2":{"datum":0.132},"y":{"datum":0.709,"type":"quantitative","scale":{"domain":[0,1],"nice":false,"zero":false},"axis":null},"y2":{"datum":0.8}}},
  {"mark":{"type":"text","text":"Comb. Bkg.","fontSize":8.7,"align":"left","baseline":"middle"},"encoding":{"x":{"datum":0.1355,"type":"quantitative","scale":{"domain":[0,1],"nice":false,"zero":false},"axis":null},"y":{"datum":0.736,"type":"quantitative","scale":{"domain":[0,1],"nice":false,"zero":false},"axis":null}}},
  {"mark":{"type":"text","text":"sPHENIX","fontSize":7.3,"fontWeight":"bold","fontStyle":"italic","align":"right","baseline":"middle"},"encoding":{"x":{"datum":0.76,"type":"quantitative","scale":{"domain":[0,1],"nice":false,"zero":false},"axis":null},"y":{"datum":0.91,"type":"quantitative","scale":{"domain":[0,1],"nice":false,"zero":false},"axis":null}}},
  {"mark":{"type":"text","text":"Performance","fontSize":7.3,"align":"left","baseline":"middle"},"encoding":{"x":{"datum":0.768,"type":"quantitative","scale":{"domain":[0,1],"nice":false,"zero":false},"axis":null},"y":{"datum":0.91,"type":"quantitative","scale":{"domain":[0,1],"nice":false,"zero":false},"axis":null}}},
  {"mark":{"type":"text","text":"Run-25","fontSize":7.3,"align":"center","baseline":"middle"},"encoding":{"x":{"datum":0.792,"type":"quantitative","scale":{"domain":[0,1],"nice":false,"zero":false},"axis":null},"y":{"datum":0.856,"type":"quantitative","scale":{"domain":[0,1],"nice":false,"zero":false},"axis":null}}},
  {"mark":{"type":"text","text":"p+p","fontSize":7.3,"fontStyle":"italic","align":"right","baseline":"middle"},"encoding":{"x":{"datum":0.675,"type":"quantitative","scale":{"domain":[0,1],"nice":false,"zero":false},"axis":null},"y":{"datum":0.789,"type":"quantitative","scale":{"domain":[0,1],"nice":false,"zero":false},"axis":null}}},
  {"mark":{"type":"text","text":"√s = 200 GeV","fontSize":7.3,"align":"left","baseline":"middle"},"encoding":{"x":{"datum":0.711,"type":"quantitative","scale":{"domain":[0,1],"nice":false,"zero":false},"axis":null},"y":{"datum":0.789,"type":"quantitative","scale":{"domain":[0,1],"nice":false,"zero":false},"axis":null}}},
  {"mark":{"type":"text","text":"∼0.04 pb⁻¹","fontSize":7.3,"align":"center","baseline":"middle"},"encoding":{"x":{"datum":0.787,"type":"quantitative","scale":{"domain":[0,1],"nice":false,"zero":false},"axis":null},"y":{"datum":0.732,"type":"quantitative","scale":{"domain":[0,1],"nice":false,"zero":false},"axis":null}}},
  {"mark":{"type":"text","text":"Λ⁰   → pπ⁻ + c.c.","fontSize":7.3,"align":"center","baseline":"middle"},"encoding":{"x":{"datum":0.759,"type":"quantitative","scale":{"domain":[0,1],"nice":false,"zero":false},"axis":null},"y":{"datum":0.669,"type":"quantitative","scale":{"domain":[0,1],"nice":false,"zero":false},"axis":null}}},
  {"mark":{"type":"text","text":"0.8 GeV < p","fontSize":7.3,"align":"right","baseline":"middle"},"encoding":{"x":{"datum":0.782,"type":"quantitative","scale":{"domain":[0,1],"nice":false,"zero":false},"axis":null},"y":{"datum":0.608,"type":"quantitative","scale":{"domain":[0,1],"nice":false,"zero":false},"axis":null}}},
  {"mark":{"type":"text","text":"T","fontSize":5,"align":"left","baseline":"middle"},"encoding":{"x":{"datum":0.784,"type":"quantitative","scale":{"domain":[0,1],"nice":false,"zero":false},"axis":null},"y":{"datum":0.59,"type":"quantitative","scale":{"domain":[0,1],"nice":false,"zero":false},"axis":null}}},
  {"mark":{"type":"text","text":"< 1.1 GeV","fontSize":7.3,"align":"left","baseline":"middle"},"encoding":{"x":{"datum":0.807,"type":"quantitative","scale":{"domain":[0,1],"nice":false,"zero":false},"axis":null},"y":{"datum":0.608,"type":"quantitative","scale":{"domain":[0,1],"nice":false,"zero":false},"axis":null}}}
 ]}
]},
{"width":197,"height":148,"resolve":{"scale":{"x":"independent","y":"independent"}},"layer":[
 {"resolve":{"axis":{"x":"independent","y":"independent"}},"layer":[
  {"data":{"name":"bkg"},"transform":[{"filter":"datum.p==3"}],"mark":{"type":"area","color":"#c8c8c8","interpolate":"monotone"},
   "encoding":{"x":{"field":"m","type":"quantitative","scale":{"domain":[1.08,1.15],"nice":false,"zero":false},"axis":{"orient":"bottom","values":[1.08,1.09,1.1,1.11,1.12,1.13,1.14,1.15],"format":"~g","tickSize":-4,"labelPadding":4.3,"labelBaseline":"top","title":"m(p⁺π⁻)","titleFontSize":6,"titleX":197,"titleY":13,"titleAlign":"right","titleBaseline":"middle","titleAnchor":"end"}},
   "y":{"field":"n","type":"quantitative","scale":{"domain":[0,6070],"nice":false},"axis":{"orient":"left","values":[0,1000,2000,3000,4000,5000,6000],"labelExpr":"datum.value/1000","tickSize":-4,"labelPadding":6.3,"title":"Candidates / (4 MeV)","titleFontSize":5.8,"titleX":-18,"titleY":0,"titleAngle":270,"titleAlign":"right","titleBaseline":"middle","titleAnchor":"end"}}}},
  {"data":{"name":"pts"},"transform":[{"filter":"datum.p==3"}],"mark":{"type":"errorbar","color":"#000","thickness":1},
   "encoding":{"x":{"field":"m","type":"quantitative","scale":{"domain":[1.08,1.15],"nice":false,"zero":false},"axis":null},"y":{"field":"n","type":"quantitative","scale":{"domain":[0,6070],"nice":false},"axis":null},"yError":{"field":"e"}}},
  {"data":{"name":"pts"},"transform":[{"filter":"datum.p==3"}],"mark":{"type":"point","filled":true,"color":"#000","opacity":1,"size":9},
   "encoding":{"x":{"field":"m","type":"quantitative","scale":{"domain":[1.08,1.15],"nice":false,"zero":false},"axis":{"orient":"bottom","tickCount":70,"labels":false,"tickSize":-2,"title":null}},"y":{"field":"n","type":"quantitative","scale":{"domain":[0,6070],"nice":false},"axis":{"orient":"left","tickCount":30,"labels":false,"tickSize":-2,"title":null}}}}
 ]},
 {"data":{"values":[{}]},"layer":[
  {"mark":{"type":"text","text":"3/22/2026","fontSize":6.8,"align":"right","baseline":"middle"},"encoding":{"x":{"datum":0.995,"type":"quantitative","scale":{"domain":[0,1],"nice":false,"zero":false},"axis":null},"y":{"datum":1.045,"type":"quantitative","scale":{"domain":[0,1],"nice":false,"zero":false},"axis":null}}},
  {"mark":{"type":"text","text":"×10³","fontSize":5.5,"align":"left","baseline":"middle"},"encoding":{"x":{"datum":-0.012,"type":"quantitative","scale":{"domain":[0,1],"nice":false,"zero":false},"axis":null},"y":{"datum":1.018,"type":"quantitative","scale":{"domain":[0,1],"nice":false,"zero":false},"axis":null}}},
  {"mark":{"type":"rule","color":"#000","strokeWidth":1},"encoding":{"x":{"datum":0.107,"type":"quantitative","scale":{"domain":[0,1],"nice":false,"zero":false},"axis":null},"y":{"datum":0.833,"type":"quantitative","scale":{"domain":[0,1],"nice":false,"zero":false},"axis":null},"y2":{"datum":0.901}}},
  {"mark":{"type":"point","filled":true,"color":"#000","opacity":1,"size":16},"encoding":{"x":{"datum":0.107,"type":"quantitative","scale":{"domain":[0,1],"nice":false,"zero":false},"axis":null},"y":{"datum":0.867,"type":"quantitative","scale":{"domain":[0,1],"nice":false,"zero":false},"axis":null}}},
  {"mark":{"type":"text","text":"Data","fontSize":8.7,"align":"left","baseline":"middle"},"encoding":{"x":{"datum":0.1355,"type":"quantitative","scale":{"domain":[0,1],"nice":false,"zero":false},"axis":null},"y":{"datum":0.867,"type":"quantitative","scale":{"domain":[0,1],"nice":false,"zero":false},"axis":null}}},
  {"mark":{"type":"rect","color":"#c8c8c8"},"encoding":{"x":{"datum":0.085,"type":"quantitative","scale":{"domain":[0,1],"nice":false,"zero":false},"axis":null},"x2":{"datum":0.132},"y":{"datum":0.709,"type":"quantitative","scale":{"domain":[0,1],"nice":false,"zero":false},"axis":null},"y2":{"datum":0.8}}},
  {"mark":{"type":"text","text":"Comb. Bkg.","fontSize":8.7,"align":"left","baseline":"middle"},"encoding":{"x":{"datum":0.1355,"type":"quantitative","scale":{"domain":[0,1],"nice":false,"zero":false},"axis":null},"y":{"datum":0.736,"type":"quantitative","scale":{"domain":[0,1],"nice":false,"zero":false},"axis":null}}},
  {"mark":{"type":"text","text":"sPHENIX","fontSize":7.3,"fontWeight":"bold","fontStyle":"italic","align":"right","baseline":"middle"},"encoding":{"x":{"datum":0.76,"type":"quantitative","scale":{"domain":[0,1],"nice":false,"zero":false},"axis":null},"y":{"datum":0.91,"type":"quantitative","scale":{"domain":[0,1],"nice":false,"zero":false},"axis":null}}},
  {"mark":{"type":"text","text":"Performance","fontSize":7.3,"align":"left","baseline":"middle"},"encoding":{"x":{"datum":0.768,"type":"quantitative","scale":{"domain":[0,1],"nice":false,"zero":false},"axis":null},"y":{"datum":0.91,"type":"quantitative","scale":{"domain":[0,1],"nice":false,"zero":false},"axis":null}}},
  {"mark":{"type":"text","text":"Run-25","fontSize":7.3,"align":"center","baseline":"middle"},"encoding":{"x":{"datum":0.792,"type":"quantitative","scale":{"domain":[0,1],"nice":false,"zero":false},"axis":null},"y":{"datum":0.856,"type":"quantitative","scale":{"domain":[0,1],"nice":false,"zero":false},"axis":null}}},
  {"mark":{"type":"text","text":"p+p","fontSize":7.3,"fontStyle":"italic","align":"right","baseline":"middle"},"encoding":{"x":{"datum":0.675,"type":"quantitative","scale":{"domain":[0,1],"nice":false,"zero":false},"axis":null},"y":{"datum":0.789,"type":"quantitative","scale":{"domain":[0,1],"nice":false,"zero":false},"axis":null}}},
  {"mark":{"type":"text","text":"√s = 200 GeV","fontSize":7.3,"align":"left","baseline":"middle"},"encoding":{"x":{"datum":0.711,"type":"quantitative","scale":{"domain":[0,1],"nice":false,"zero":false},"axis":null},"y":{"datum":0.789,"type":"quantitative","scale":{"domain":[0,1],"nice":false,"zero":false},"axis":null}}},
  {"mark":{"type":"text","text":"∼0.04 pb⁻¹","fontSize":7.3,"align":"center","baseline":"middle"},"encoding":{"x":{"datum":0.787,"type":"quantitative","scale":{"domain":[0,1],"nice":false,"zero":false},"axis":null},"y":{"datum":0.732,"type":"quantitative","scale":{"domain":[0,1],"nice":false,"zero":false},"axis":null}}},
  {"mark":{"type":"text","text":"Λ⁰   → pπ⁻ + c.c.","fontSize":7.3,"align":"center","baseline":"middle"},"encoding":{"x":{"datum":0.759,"type":"quantitative","scale":{"domain":[0,1],"nice":false,"zero":false},"axis":null},"y":{"datum":0.669,"type":"quantitative","scale":{"domain":[0,1],"nice":false,"zero":false},"axis":null}}},
  {"mark":{"type":"text","text":"1.1 GeV < p","fontSize":7.3,"align":"right","baseline":"middle"},"encoding":{"x":{"datum":0.782,"type":"quantitative","scale":{"domain":[0,1],"nice":false,"zero":false},"axis":null},"y":{"datum":0.608,"type":"quantitative","scale":{"domain":[0,1],"nice":false,"zero":false},"axis":null}}},
  {"mark":{"type":"text","text":"T","fontSize":5,"align":"left","baseline":"middle"},"encoding":{"x":{"datum":0.784,"type":"quantitative","scale":{"domain":[0,1],"nice":false,"zero":false},"axis":null},"y":{"datum":0.59,"type":"quantitative","scale":{"domain":[0,1],"nice":false,"zero":false},"axis":null}}},
  {"mark":{"type":"text","text":"< 1.4 GeV","fontSize":7.3,"align":"left","baseline":"middle"},"encoding":{"x":{"datum":0.807,"type":"quantitative","scale":{"domain":[0,1],"nice":false,"zero":false},"axis":null},"y":{"datum":0.608,"type":"quantitative","scale":{"domain":[0,1],"nice":false,"zero":false},"axis":null}}}
 ]}
]},
{"width":197,"height":148,"resolve":{"scale":{"x":"independent","y":"independent"}},"layer":[
 {"resolve":{"axis":{"x":"independent","y":"independent"}},"layer":[
  {"data":{"name":"bkg"},"transform":[{"filter":"datum.p==4"}],"mark":{"type":"area","color":"#c8c8c8","interpolate":"monotone"},
   "encoding":{"x":{"field":"m","type":"quantitative","scale":{"domain":[1.08,1.15],"nice":false,"zero":false},"axis":{"orient":"bottom","values":[1.08,1.09,1.1,1.11,1.12,1.13,1.14,1.15],"format":"~g","tickSize":-4,"labelPadding":4.3,"labelBaseline":"top","title":"m(p⁺π⁻)","titleFontSize":6,"titleX":197,"titleY":13,"titleAlign":"right","titleBaseline":"middle","titleAnchor":"end"}},
   "y":{"field":"n","type":"quantitative","scale":{"domain":[0,2620],"nice":false},"axis":{"orient":"left","values":[0,500,1000,1500,2000,2500],"labelExpr":"datum.value/1000","tickSize":-4,"labelPadding":6.3,"title":"Candidates / (4 MeV)","titleFontSize":5.8,"titleX":-18,"titleY":0,"titleAngle":270,"titleAlign":"right","titleBaseline":"middle","titleAnchor":"end"}}}},
  {"data":{"name":"pts"},"transform":[{"filter":"datum.p==4"}],"mark":{"type":"errorbar","color":"#000","thickness":1},
   "encoding":{"x":{"field":"m","type":"quantitative","scale":{"domain":[1.08,1.15],"nice":false,"zero":false},"axis":null},"y":{"field":"n","type":"quantitative","scale":{"domain":[0,2620],"nice":false},"axis":null},"yError":{"field":"e"}}},
  {"data":{"name":"pts"},"transform":[{"filter":"datum.p==4"}],"mark":{"type":"point","filled":true,"color":"#000","opacity":1,"size":9},
   "encoding":{"x":{"field":"m","type":"quantitative","scale":{"domain":[1.08,1.15],"nice":false,"zero":false},"axis":{"orient":"bottom","tickCount":70,"labels":false,"tickSize":-2,"title":null}},"y":{"field":"n","type":"quantitative","scale":{"domain":[0,2620],"nice":false},"axis":{"orient":"left","tickCount":26,"labels":false,"tickSize":-2,"title":null}}}}
 ]},
 {"data":{"values":[{}]},"layer":[
  {"mark":{"type":"text","text":"3/22/2026","fontSize":6.8,"align":"right","baseline":"middle"},"encoding":{"x":{"datum":0.995,"type":"quantitative","scale":{"domain":[0,1],"nice":false,"zero":false},"axis":null},"y":{"datum":1.045,"type":"quantitative","scale":{"domain":[0,1],"nice":false,"zero":false},"axis":null}}},
  {"mark":{"type":"text","text":"×10³","fontSize":5.5,"align":"left","baseline":"middle"},"encoding":{"x":{"datum":-0.012,"type":"quantitative","scale":{"domain":[0,1],"nice":false,"zero":false},"axis":null},"y":{"datum":1.018,"type":"quantitative","scale":{"domain":[0,1],"nice":false,"zero":false},"axis":null}}},
  {"mark":{"type":"rule","color":"#000","strokeWidth":1},"encoding":{"x":{"datum":0.107,"type":"quantitative","scale":{"domain":[0,1],"nice":false,"zero":false},"axis":null},"y":{"datum":0.833,"type":"quantitative","scale":{"domain":[0,1],"nice":false,"zero":false},"axis":null},"y2":{"datum":0.901}}},
  {"mark":{"type":"point","filled":true,"color":"#000","opacity":1,"size":16},"encoding":{"x":{"datum":0.107,"type":"quantitative","scale":{"domain":[0,1],"nice":false,"zero":false},"axis":null},"y":{"datum":0.867,"type":"quantitative","scale":{"domain":[0,1],"nice":false,"zero":false},"axis":null}}},
  {"mark":{"type":"text","text":"Data","fontSize":8.7,"align":"left","baseline":"middle"},"encoding":{"x":{"datum":0.1355,"type":"quantitative","scale":{"domain":[0,1],"nice":false,"zero":false},"axis":null},"y":{"datum":0.867,"type":"quantitative","scale":{"domain":[0,1],"nice":false,"zero":false},"axis":null}}},
  {"mark":{"type":"rect","color":"#c8c8c8"},"encoding":{"x":{"datum":0.085,"type":"quantitative","scale":{"domain":[0,1],"nice":false,"zero":false},"axis":null},"x2":{"datum":0.132},"y":{"datum":0.709,"type":"quantitative","scale":{"domain":[0,1],"nice":false,"zero":false},"axis":null},"y2":{"datum":0.8}}},
  {"mark":{"type":"text","text":"Comb. Bkg.","fontSize":8.7,"align":"left","baseline":"middle"},"encoding":{"x":{"datum":0.1355,"type":"quantitative","scale":{"domain":[0,1],"nice":false,"zero":false},"axis":null},"y":{"datum":0.736,"type":"quantitative","scale":{"domain":[0,1],"nice":false,"zero":false},"axis":null}}},
  {"mark":{"type":"text","text":"sPHENIX","fontSize":7.3,"fontWeight":"bold","fontStyle":"italic","align":"right","baseline":"middle"},"encoding":{"x":{"datum":0.76,"type":"quantitative","scale":{"domain":[0,1],"nice":false,"zero":false},"axis":null},"y":{"datum":0.91,"type":"quantitative","scale":{"domain":[0,1],"nice":false,"zero":false},"axis":null}}},
  {"mark":{"type":"text","text":"Performance","fontSize":7.3,"align":"left","baseline":"middle"},"encoding":{"x":{"datum":0.768,"type":"quantitative","scale":{"domain":[0,1],"nice":false,"zero":false},"axis":null},"y":{"datum":0.91,"type":"quantitative","scale":{"domain":[0,1],"nice":false,"zero":false},"axis":null}}},
  {"mark":{"type":"text","text":"Run-25","fontSize":7.3,"align":"center","baseline":"middle"},"encoding":{"x":{"datum":0.792,"type":"quantitative","scale":{"domain":[0,1],"nice":false,"zero":false},"axis":null},"y":{"datum":0.856,"type":"quantitative","scale":{"domain":[0,1],"nice":false,"zero":false},"axis":null}}},
  {"mark":{"type":"text","text":"p+p","fontSize":7.3,"fontStyle":"italic","align":"right","baseline":"middle"},"encoding":{"x":{"datum":0.675,"type":"quantitative","scale":{"domain":[0,1],"nice":false,"zero":false},"axis":null},"y":{"datum":0.789,"type":"quantitative","scale":{"domain":[0,1],"nice":false,"zero":false},"axis":null}}},
  {"mark":{"type":"text","text":"√s = 200 GeV","fontSize":7.3,"align":"left","baseline":"middle"},"encoding":{"x":{"datum":0.711,"type":"quantitative","scale":{"domain":[0,1],"nice":false,"zero":false},"axis":null},"y":{"datum":0.789,"type":"quantitative","scale":{"domain":[0,1],"nice":false,"zero":false},"axis":null}}},
  {"mark":{"type":"text","text":"∼0.04 pb⁻¹","fontSize":7.3,"align":"center","baseline":"middle"},"encoding":{"x":{"datum":0.787,"type":"quantitative","scale":{"domain":[0,1],"nice":false,"zero":false},"axis":null},"y":{"datum":0.732,"type":"quantitative","scale":{"domain":[0,1],"nice":false,"zero":false},"axis":null}}},
  {"mark":{"type":"text","text":"Λ⁰   → pπ⁻ + c.c.","fontSize":7.3,"align":"center","baseline":"middle"},"encoding":{"x":{"datum":0.759,"type":"quantitative","scale":{"domain":[0,1],"nice":false,"zero":false},"axis":null},"y":{"datum":0.669,"type":"quantitative","scale":{"domain":[0,1],"nice":false,"zero":false},"axis":null}}},
  {"mark":{"type":"text","text":"1.4 GeV < p","fontSize":7.3,"align":"right","baseline":"middle"},"encoding":{"x":{"datum":0.782,"type":"quantitative","scale":{"domain":[0,1],"nice":false,"zero":false},"axis":null},"y":{"datum":0.608,"type":"quantitative","scale":{"domain":[0,1],"nice":false,"zero":false},"axis":null}}},
  {"mark":{"type":"text","text":"T","fontSize":5,"align":"left","baseline":"middle"},"encoding":{"x":{"datum":0.784,"type":"quantitative","scale":{"domain":[0,1],"nice":false,"zero":false},"axis":null},"y":{"datum":0.59,"type":"quantitative","scale":{"domain":[0,1],"nice":false,"zero":false},"axis":null}}},
  {"mark":{"type":"text","text":"< 1.8 GeV","fontSize":7.3,"align":"left","baseline":"middle"},"encoding":{"x":{"datum":0.807,"type":"quantitative","scale":{"domain":[0,1],"nice":false,"zero":false},"axis":null},"y":{"datum":0.608,"type":"quantitative","scale":{"domain":[0,1],"nice":false,"zero":false},"axis":null}}}
 ]}
]},
{"width":197,"height":148,"resolve":{"scale":{"x":"independent","y":"independent"}},"layer":[
 {"resolve":{"axis":{"x":"independent","y":"independent"}},"layer":[
  {"data":{"name":"bkg"},"transform":[{"filter":"datum.p==5"}],"mark":{"type":"area","color":"#c8c8c8","interpolate":"monotone"},
   "encoding":{"x":{"field":"m","type":"quantitative","scale":{"domain":[1.08,1.15],"nice":false,"zero":false},"axis":{"orient":"bottom","values":[1.08,1.09,1.1,1.11,1.12,1.13,1.14,1.15],"format":"~g","tickSize":-4,"labelPadding":4.3,"labelBaseline":"top","title":"m(p⁺π⁻)","titleFontSize":6,"titleX":197,"titleY":13,"titleAlign":"right","titleBaseline":"middle","titleAnchor":"end"}},
   "y":{"field":"n","type":"quantitative","scale":{"domain":[0,637],"nice":false},"axis":{"orient":"left","values":[0,100,200,300,400,500,600],"tickSize":-4,"labelPadding":6.3,"title":"Candidates / (4 MeV)","titleFontSize":5.8,"titleX":-18,"titleY":0,"titleAngle":270,"titleAlign":"right","titleBaseline":"middle","titleAnchor":"end"}}}},
  {"data":{"name":"pts"},"transform":[{"filter":"datum.p==5"}],"mark":{"type":"errorbar","color":"#000","thickness":1},
   "encoding":{"x":{"field":"m","type":"quantitative","scale":{"domain":[1.08,1.15],"nice":false,"zero":false},"axis":null},"y":{"field":"n","type":"quantitative","scale":{"domain":[0,637],"nice":false},"axis":null},"yError":{"field":"e"}}},
  {"data":{"name":"pts"},"transform":[{"filter":"datum.p==5"}],"mark":{"type":"point","filled":true,"color":"#000","opacity":1,"size":9},
   "encoding":{"x":{"field":"m","type":"quantitative","scale":{"domain":[1.08,1.15],"nice":false,"zero":false},"axis":{"orient":"bottom","tickCount":70,"labels":false,"tickSize":-2,"title":null}},"y":{"field":"n","type":"quantitative","scale":{"domain":[0,637],"nice":false},"axis":{"orient":"left","tickCount":32,"labels":false,"tickSize":-2,"title":null}}}}
 ]},
 {"data":{"values":[{}]},"layer":[
  {"mark":{"type":"text","text":"3/22/2026","fontSize":6.8,"align":"right","baseline":"middle"},"encoding":{"x":{"datum":0.995,"type":"quantitative","scale":{"domain":[0,1],"nice":false,"zero":false},"axis":null},"y":{"datum":1.045,"type":"quantitative","scale":{"domain":[0,1],"nice":false,"zero":false},"axis":null}}},
  {"mark":{"type":"rule","color":"#000","strokeWidth":1},"encoding":{"x":{"datum":0.107,"type":"quantitative","scale":{"domain":[0,1],"nice":false,"zero":false},"axis":null},"y":{"datum":0.833,"type":"quantitative","scale":{"domain":[0,1],"nice":false,"zero":false},"axis":null},"y2":{"datum":0.901}}},
  {"mark":{"type":"point","filled":true,"color":"#000","opacity":1,"size":16},"encoding":{"x":{"datum":0.107,"type":"quantitative","scale":{"domain":[0,1],"nice":false,"zero":false},"axis":null},"y":{"datum":0.867,"type":"quantitative","scale":{"domain":[0,1],"nice":false,"zero":false},"axis":null}}},
  {"mark":{"type":"text","text":"Data","fontSize":8.7,"align":"left","baseline":"middle"},"encoding":{"x":{"datum":0.1355,"type":"quantitative","scale":{"domain":[0,1],"nice":false,"zero":false},"axis":null},"y":{"datum":0.867,"type":"quantitative","scale":{"domain":[0,1],"nice":false,"zero":false},"axis":null}}},
  {"mark":{"type":"rect","color":"#c8c8c8"},"encoding":{"x":{"datum":0.085,"type":"quantitative","scale":{"domain":[0,1],"nice":false,"zero":false},"axis":null},"x2":{"datum":0.132},"y":{"datum":0.709,"type":"quantitative","scale":{"domain":[0,1],"nice":false,"zero":false},"axis":null},"y2":{"datum":0.8}}},
  {"mark":{"type":"text","text":"Comb. Bkg.","fontSize":8.7,"align":"left","baseline":"middle"},"encoding":{"x":{"datum":0.1355,"type":"quantitative","scale":{"domain":[0,1],"nice":false,"zero":false},"axis":null},"y":{"datum":0.736,"type":"quantitative","scale":{"domain":[0,1],"nice":false,"zero":false},"axis":null}}},
  {"mark":{"type":"text","text":"sPHENIX","fontSize":7.3,"fontWeight":"bold","fontStyle":"italic","align":"right","baseline":"middle"},"encoding":{"x":{"datum":0.76,"type":"quantitative","scale":{"domain":[0,1],"nice":false,"zero":false},"axis":null},"y":{"datum":0.91,"type":"quantitative","scale":{"domain":[0,1],"nice":false,"zero":false},"axis":null}}},
  {"mark":{"type":"text","text":"Performance","fontSize":7.3,"align":"left","baseline":"middle"},"encoding":{"x":{"datum":0.768,"type":"quantitative","scale":{"domain":[0,1],"nice":false,"zero":false},"axis":null},"y":{"datum":0.91,"type":"quantitative","scale":{"domain":[0,1],"nice":false,"zero":false},"axis":null}}},
  {"mark":{"type":"text","text":"Run-25","fontSize":7.3,"align":"center","baseline":"middle"},"encoding":{"x":{"datum":0.792,"type":"quantitative","scale":{"domain":[0,1],"nice":false,"zero":false},"axis":null},"y":{"datum":0.856,"type":"quantitative","scale":{"domain":[0,1],"nice":false,"zero":false},"axis":null}}},
  {"mark":{"type":"text","text":"p+p","fontSize":7.3,"fontStyle":"italic","align":"right","baseline":"middle"},"encoding":{"x":{"datum":0.675,"type":"quantitative","scale":{"domain":[0,1],"nice":false,"zero":false},"axis":null},"y":{"datum":0.789,"type":"quantitative","scale":{"domain":[0,1],"nice":false,"zero":false},"axis":null}}},
  {"mark":{"type":"text","text":"√s = 200 GeV","fontSize":7.3,"align":"left","baseline":"middle"},"encoding":{"x":{"datum":0.711,"type":"quantitative","scale":{"domain":[0,1],"nice":false,"zero":false},"axis":null},"y":{"datum":0.789,"type":"quantitative","scale":{"domain":[0,1],"nice":false,"zero":false},"axis":null}}},
  {"mark":{"type":"text","text":"∼0.04 pb⁻¹","fontSize":7.3,"align":"center","baseline":"middle"},"encoding":{"x":{"datum":0.787,"type":"quantitative","scale":{"domain":[0,1],"nice":false,"zero":false},"axis":null},"y":{"datum":0.732,"type":"quantitative","scale":{"domain":[0,1],"nice":false,"zero":false},"axis":null}}},
  {"mark":{"type":"text","text":"Λ⁰   → pπ⁻ + c.c.","fontSize":7.3,"align":"center","baseline":"middle"},"encoding":{"x":{"datum":0.759,"type":"quantitative","scale":{"domain":[0,1],"nice":false,"zero":false},"axis":null},"y":{"datum":0.669,"type":"quantitative","scale":{"domain":[0,1],"nice":false,"zero":false},"axis":null}}},
  {"mark":{"type":"text","text":"1.8 GeV < p","fontSize":7.3,"align":"right","baseline":"middle"},"encoding":{"x":{"datum":0.782,"type":"quantitative","scale":{"domain":[0,1],"nice":false,"zero":false},"axis":null},"y":{"datum":0.608,"type":"quantitative","scale":{"domain":[0,1],"nice":false,"zero":false},"axis":null}}},
  {"mark":{"type":"text","text":"T","fontSize":5,"align":"left","baseline":"middle"},"encoding":{"x":{"datum":0.784,"type":"quantitative","scale":{"domain":[0,1],"nice":false,"zero":false},"axis":null},"y":{"datum":0.59,"type":"quantitative","scale":{"domain":[0,1],"nice":false,"zero":false},"axis":null}}},
  {"mark":{"type":"text","text":"< 2.2 GeV","fontSize":7.3,"align":"left","baseline":"middle"},"encoding":{"x":{"datum":0.807,"type":"quantitative","scale":{"domain":[0,1],"nice":false,"zero":false},"axis":null},"y":{"datum":0.608,"type":"quantitative","scale":{"domain":[0,1],"nice":false,"zero":false},"axis":null}}}
 ]}
]},
{"width":197,"height":148,"resolve":{"scale":{"x":"independent","y":"independent"}},"layer":[
 {"resolve":{"axis":{"x":"independent","y":"independent"}},"layer":[
  {"data":{"name":"bkg"},"transform":[{"filter":"datum.p==6"}],"mark":{"type":"area","color":"#c8c8c8","interpolate":"monotone"},
   "encoding":{"x":{"field":"m","type":"quantitative","scale":{"domain":[1.08,1.15],"nice":false,"zero":false},"axis":{"orient":"bottom","values":[1.08,1.09,1.1,1.11,1.12,1.13,1.14,1.15],"format":"~g","tickSize":-4,"labelPadding":4.3,"labelBaseline":"top","title":"m(p⁺π⁻)","titleFontSize":6,"titleX":197,"titleY":13,"titleAlign":"right","titleBaseline":"middle","titleAnchor":"end"}},
   "y":{"field":"n","type":"quantitative","scale":{"domain":[0,236],"nice":false},"axis":{"orient":"left","values":[0,20,40,60,80,100,120,140,160,180,200,220],"tickSize":-4,"labelPadding":6.3,"title":"Candidates / (4 MeV)","titleFontSize":5.8,"titleX":-18,"titleY":0,"titleAngle":270,"titleAlign":"right","titleBaseline":"middle","titleAnchor":"end"}}}},
  {"data":{"name":"pts"},"transform":[{"filter":"datum.p==6"}],"mark":{"type":"errorbar","color":"#000","thickness":1},
   "encoding":{"x":{"field":"m","type":"quantitative","scale":{"domain":[1.08,1.15],"nice":false,"zero":false},"axis":null},"y":{"field":"n","type":"quantitative","scale":{"domain":[0,236],"nice":false},"axis":null},"yError":{"field":"e"}}},
  {"data":{"name":"pts"},"transform":[{"filter":"datum.p==6"}],"mark":{"type":"point","filled":true,"color":"#000","opacity":1,"size":9},
   "encoding":{"x":{"field":"m","type":"quantitative","scale":{"domain":[1.08,1.15],"nice":false,"zero":false},"axis":{"orient":"bottom","tickCount":70,"labels":false,"tickSize":-2,"title":null}},"y":{"field":"n","type":"quantitative","scale":{"domain":[0,236],"nice":false},"axis":{"orient":"left","tickCount":47,"labels":false,"tickSize":-2,"title":null}}}}
 ]},
 {"data":{"values":[{}]},"layer":[
  {"mark":{"type":"text","text":"3/22/2026","fontSize":6.8,"align":"right","baseline":"middle"},"encoding":{"x":{"datum":0.995,"type":"quantitative","scale":{"domain":[0,1],"nice":false,"zero":false},"axis":null},"y":{"datum":1.045,"type":"quantitative","scale":{"domain":[0,1],"nice":false,"zero":false},"axis":null}}},
  {"mark":{"type":"rule","color":"#000","strokeWidth":1},"encoding":{"x":{"datum":0.107,"type":"quantitative","scale":{"domain":[0,1],"nice":false,"zero":false},"axis":null},"y":{"datum":0.833,"type":"quantitative","scale":{"domain":[0,1],"nice":false,"zero":false},"axis":null},"y2":{"datum":0.901}}},
  {"mark":{"type":"point","filled":true,"color":"#000","opacity":1,"size":16},"encoding":{"x":{"datum":0.107,"type":"quantitative","scale":{"domain":[0,1],"nice":false,"zero":false},"axis":null},"y":{"datum":0.867,"type":"quantitative","scale":{"domain":[0,1],"nice":false,"zero":false},"axis":null}}},
  {"mark":{"type":"text","text":"Data","fontSize":8.7,"align":"left","baseline":"middle"},"encoding":{"x":{"datum":0.1355,"type":"quantitative","scale":{"domain":[0,1],"nice":false,"zero":false},"axis":null},"y":{"datum":0.867,"type":"quantitative","scale":{"domain":[0,1],"nice":false,"zero":false},"axis":null}}},
  {"mark":{"type":"rect","color":"#c8c8c8"},"encoding":{"x":{"datum":0.085,"type":"quantitative","scale":{"domain":[0,1],"nice":false,"zero":false},"axis":null},"x2":{"datum":0.132},"y":{"datum":0.709,"type":"quantitative","scale":{"domain":[0,1],"nice":false,"zero":false},"axis":null},"y2":{"datum":0.8}}},
  {"mark":{"type":"text","text":"Comb. Bkg.","fontSize":8.7,"align":"left","baseline":"middle"},"encoding":{"x":{"datum":0.1355,"type":"quantitative","scale":{"domain":[0,1],"nice":false,"zero":false},"axis":null},"y":{"datum":0.736,"type":"quantitative","scale":{"domain":[0,1],"nice":false,"zero":false},"axis":null}}},
  {"mark":{"type":"text","text":"sPHENIX","fontSize":7.3,"fontWeight":"bold","fontStyle":"italic","align":"right","baseline":"middle"},"encoding":{"x":{"datum":0.76,"type":"quantitative","scale":{"domain":[0,1],"nice":false,"zero":false},"axis":null},"y":{"datum":0.91,"type":"quantitative","scale":{"domain":[0,1],"nice":false,"zero":false},"axis":null}}},
  {"mark":{"type":"text","text":"Performance","fontSize":7.3,"align":"left","baseline":"middle"},"encoding":{"x":{"datum":0.768,"type":"quantitative","scale":{"domain":[0,1],"nice":false,"zero":false},"axis":null},"y":{"datum":0.91,"type":"quantitative","scale":{"domain":[0,1],"nice":false,"zero":false},"axis":null}}},
  {"mark":{"type":"text","text":"Run-25","fontSize":7.3,"align":"center","baseline":"middle"},"encoding":{"x":{"datum":0.792,"type":"quantitative","scale":{"domain":[0,1],"nice":false,"zero":false},"axis":null},"y":{"datum":0.856,"type":"quantitative","scale":{"domain":[0,1],"nice":false,"zero":false},"axis":null}}},
  {"mark":{"type":"text","text":"p+p","fontSize":7.3,"fontStyle":"italic","align":"right","baseline":"middle"},"encoding":{"x":{"datum":0.675,"type":"quantitative","scale":{"domain":[0,1],"nice":false,"zero":false},"axis":null},"y":{"datum":0.789,"type":"quantitative","scale":{"domain":[0,1],"nice":false,"zero":false},"axis":null}}},
  {"mark":{"type":"text","text":"√s = 200 GeV","fontSize":7.3,"align":"left","baseline":"middle"},"encoding":{"x":{"datum":0.711,"type":"quantitative","scale":{"domain":[0,1],"nice":false,"zero":false},"axis":null},"y":{"datum":0.789,"type":"quantitative","scale":{"domain":[0,1],"nice":false,"zero":false},"axis":null}}},
  {"mark":{"type":"text","text":"∼0.04 pb⁻¹","fontSize":7.3,"align":"center","baseline":"middle"},"encoding":{"x":{"datum":0.787,"type":"quantitative","scale":{"domain":[0,1],"nice":false,"zero":false},"axis":null},"y":{"datum":0.732,"type":"quantitative","scale":{"domain":[0,1],"nice":false,"zero":false},"axis":null}}},
  {"mark":{"type":"text","text":"Λ⁰   → pπ⁻ + c.c.","fontSize":7.3,"align":"center","baseline":"middle"},"encoding":{"x":{"datum":0.759,"type":"quantitative","scale":{"domain":[0,1],"nice":false,"zero":false},"axis":null},"y":{"datum":0.669,"type":"quantitative","scale":{"domain":[0,1],"nice":false,"zero":false},"axis":null}}},
  {"mark":{"type":"text","text":"2.2 GeV < p","fontSize":7.3,"align":"right","baseline":"middle"},"encoding":{"x":{"datum":0.782,"type":"quantitative","scale":{"domain":[0,1],"nice":false,"zero":false},"axis":null},"y":{"datum":0.608,"type":"quantitative","scale":{"domain":[0,1],"nice":false,"zero":false},"axis":null}}},
  {"mark":{"type":"text","text":"T","fontSize":5,"align":"left","baseline":"middle"},"encoding":{"x":{"datum":0.784,"type":"quantitative","scale":{"domain":[0,1],"nice":false,"zero":false},"axis":null},"y":{"datum":0.59,"type":"quantitative","scale":{"domain":[0,1],"nice":false,"zero":false},"axis":null}}},
  {"mark":{"type":"text","text":"< 4.0 GeV","fontSize":7.3,"align":"left","baseline":"middle"},"encoding":{"x":{"datum":0.807,"type":"quantitative","scale":{"domain":[0,1],"nice":false,"zero":false},"axis":null},"y":{"datum":0.608,"type":"quantitative","scale":{"domain":[0,1],"nice":false,"zero":false},"axis":null}}}
 ]}
]}
],
"config":{
 "font":"Liberation Sans",
 "view":{"stroke":"#000","strokeWidth":1},
 "axis":{"domain":false,"grid":false,"tickColor":"#000","tickWidth":1,"labelColor":"#000","labelFont":"Liberation Sans","labelFontSize":5.6,"titleFont":"Liberation Sans","titleColor":"#000","titleFontWeight":"normal","labelFlush":false,"labelOverlap":false},
 "text":{"font":"Liberation Sans","color":"#000"}
}
}
